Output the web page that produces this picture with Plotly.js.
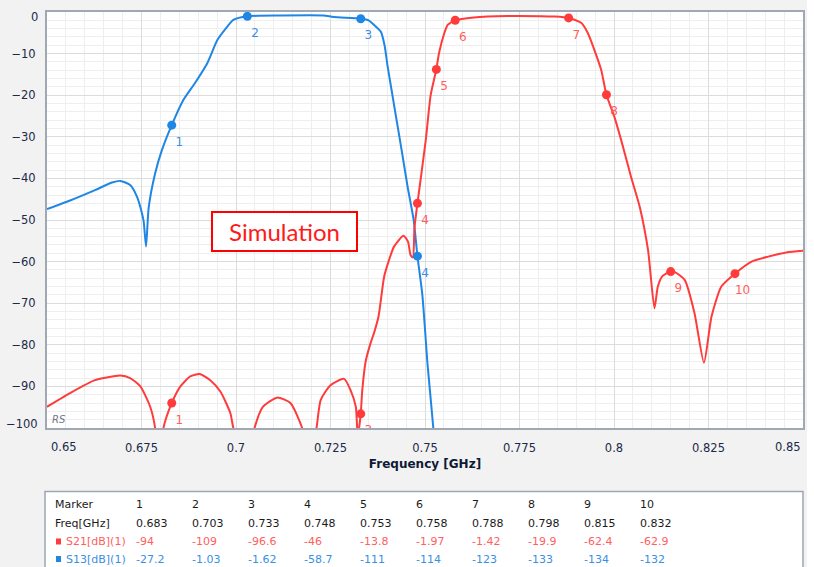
<!DOCTYPE html>
<html>
<head>
<meta charset="utf-8">
<script src="https://cdn.plot.ly/plotly-3.0.1.min.js"></script>
<style>html,body{margin:0;padding:0;background:#f2f2f2;}#chart{width:814px;height:567px;}</style>
</head>
<body>
<div id="chart"></div>
<script>
// ---- S13 (blue) trace ----
const s13Freq = [0.650,0.6561,0.6627,0.6672,0.6694,0.6720,0.6738,0.6751,0.6756,0.6762,0.6769,0.6786,0.6804,0.683,0.6861,0.6892,0.6924,0.6951,0.6977,0.6993,0.703,0.7118,0.7232,0.7258,0.733,0.7351,0.7364,0.7383,0.7393,0.7401,0.7412,0.7423,0.7436,0.7454,0.747,0.748,0.7493,0.7507,0.7522,0.753,0.758,0.788,0.798,0.815,0.832];
const s13dB   = [-47.4,-45.3,-42.8,-41.0,-40.6,-41.6,-44.4,-48.3,-50.5,-56.4,-47,-38.8,-33.2,-27.2,-21.1,-17,-12.3,-6.7,-3.5,-1.9,-1.03,-0.85,-0.85,-1.2,-1.62,-2,-3,-4.7,-8,-13,-19,-25,-32,-42,-50,-58.7,-68,-85,-100,-111,-114,-123,-133,-134,-132];

// ---- S21 (red) trace ----
const s21Freq = [0.650,0.6561,0.6627,0.6694,0.672,0.6747,0.6773,0.6786,0.6795,0.6808,0.683,0.6853,0.6879,0.6904,0.6932,0.6959,0.6985,0.6993,0.703,0.7049,0.7071,0.7109,0.7144,0.7175,0.7195,0.7213,0.7224,0.725,0.7286,0.7303,0.7317,0.7322,0.733,0.7334,0.7343,0.7356,0.7365,0.7377,0.7392,0.7405,0.7418,0.7443,0.7455,0.7462,0.7468,0.7472,0.748,0.7502,0.7515,0.753,0.7537,0.7551,0.756,0.758,0.7629,0.7719,0.7807,0.7841,0.788,0.7913,0.7931,0.7948,0.7966,0.798,0.8001,0.8019,0.8045,0.8068,0.809,0.8107,0.8116,0.8128,0.815,0.8162,0.8187,0.8213,0.8238,0.8258,0.8284,0.832,0.8364,0.8408,0.8456,0.85];
const s21dB   = [-94.9,-91.6,-88.5,-87.4,-88,-90,-94.9,-100,-112,-100,-94,-90,-87.6,-87,-88.5,-91.3,-96.4,-100,-109,-100,-94.9,-92.7,-94,-100,-108,-100,-93.3,-89.7,-88.2,-90.9,-94.9,-102,-96.6,-91,-84,-79.6,-77.2,-73.2,-63.6,-59.6,-56.4,-53.8,-55.2,-58.5,-59,-52,-46,-30.8,-20,-13.8,-9.9,-5.1,-3.1,-1.97,-1.3,-0.96,-1.0,-1.1,-1.42,-2.6,-5.1,-9.1,-13.9,-19.9,-25.2,-30.8,-39.6,-46.8,-57.2,-71.2,-66,-63.5,-62.4,-62.6,-64.4,-72.4,-84.3,-73.2,-66,-62.9,-60,-58.8,-57.8,-57.4];

// ---- Marker table ----
const markerNo   = [1,2,3,4,5,6,7,8,9,10];
const markerFreq = [0.683,0.703,0.733,0.748,0.753,0.758,0.788,0.798,0.815,0.832];
const markerS21  = [-94,-109,-96.6,-46,-13.8,-1.97,-1.42,-19.9,-62.4,-62.9];
const markerS13  = [-27.2,-1.03,-1.62,-58.7,-111,-114,-123,-133,-134,-132];

// ---- Axis ticks ----
const xTickVals = [0.65,0.675,0.7,0.725,0.75,0.775,0.8,0.825,0.85];
const xTickText = ['0.65','0.675','0.7','0.725','0.75','0.775','0.8','0.825','0.85'];
const yTickVals = [-100,-90,-80,-70,-60,-50,-40,-30,-20,-10,0];

const RED = '#ff3b3b', BLUE = '#1f86e6';
const RED_T = '#ff5e5e', BLUE_T = '#3a8fe3';
const NAVY = '#1c2a48';
const FONT = 'DejaVu Sans, Tahoma, sans-serif';
const NB = '\u00a0\u00a0\u00a0\u00a0';
const YMIN = yTickVals[0];

// plot area pixel frame
const L = 47, R = 803, T = 12, B = 428;
const px = x => (x - L) / (R - L);
const py = y => (B - y) / (B - T);

// marker number labels only where the marker lies inside the visible range
const labelsFor = vals => markerNo.map((n, i) => vals[i] >= YMIN ? NB + n : '');

const traces = [
  {x: s13Freq, y: s13dB, type: 'scatter', mode: 'lines', line: {color: BLUE, width: 2, shape: 'spline', smoothing: 0.6}, hoverinfo: 'skip', cliponaxis: true},
  {x: s21Freq, y: s21dB, type: 'scatter', mode: 'lines', line: {color: RED, width: 2, shape: 'spline', smoothing: 0.6}, hoverinfo: 'skip', cliponaxis: true},
  {x: markerFreq, y: markerS13, type: 'scatter', mode: 'markers', marker: {color: BLUE, size: 9}, cliponaxis: true, hoverinfo: 'skip'},
  {x: markerFreq, y: markerS21, type: 'scatter', mode: 'markers', marker: {color: RED, size: 9}, cliponaxis: true, hoverinfo: 'skip'},
  {x: markerFreq, y: markerS13, type: 'scatter', mode: 'markers+text', text: labelsFor(markerS13),
   textposition: 'bottom center', textfont: {family: FONT, size: 12, color: BLUE_T},
   marker: {color: BLUE, size: 17, opacity: 0}, cliponaxis: true, hoverinfo: 'skip'},
  {x: markerFreq, y: markerS21, type: 'scatter', mode: 'markers+text', text: labelsFor(markerS21),
   textposition: 'bottom center', textfont: {family: FONT, size: 12, color: RED_T},
   marker: {color: RED, size: 17, opacity: 0}, cliponaxis: true, hoverinfo: 'skip'}
];

const annotations = [];
const shapes = [];

// x end labels (kept inside frame like the original)
annotations.push({xref: 'paper', yref: 'paper', x: px(49), y: py(447), xanchor: 'left', yanchor: 'middle',
  text: xTickText[0], showarrow: false, font: {family: FONT, size: 11.5, color: NAVY}});
annotations.push({xref: 'paper', yref: 'paper', x: px(803), y: py(447), xanchor: 'right', yanchor: 'middle',
  text: xTickText[xTickText.length - 1], showarrow: false, font: {family: FONT, size: 11.5, color: NAVY}});
// y end labels (kept inside frame like the original)
annotations.push({xref: 'paper', yref: 'paper', x: px(40), y: py(17), xanchor: 'right', yanchor: 'middle',
  text: String(yTickVals[yTickVals.length - 1]), showarrow: false, font: {family: FONT, size: 11.5, color: NAVY}});
annotations.push({xref: 'paper', yref: 'paper', x: px(40), y: py(424), xanchor: 'right', yanchor: 'middle',
  text: '\u2212' + String(-yTickVals[0]), showarrow: false, font: {family: FONT, size: 11.5, color: NAVY}});

// RS watermark
annotations.push({xref: 'paper', yref: 'paper', x: px(50), y: py(419), xanchor: 'left', yanchor: 'middle',
  text: '<i>RS</i>', showarrow: false, font: {family: FONT, size: 10, color: '#6f7787'}});

// Simulation box
shapes.push({type: 'rect', xref: 'paper', yref: 'paper', x0: px(212), x1: px(357), y0: py(251), y1: py(212),
  line: {color: '#ff0000', width: 2}, fillcolor: '#ffffff', layer: 'above'});
annotations.push({xref: 'paper', yref: 'paper', x: px(284.5), y: py(231.5), xanchor: 'center', yanchor: 'middle',
  text: 'Simulation', showarrow: false, font: {family: 'Lato, Noto Sans, sans-serif', size: 24, color: '#ff1a1a'}});

// Table box
shapes.push({type: 'rect', xref: 'paper', yref: 'paper', x0: px(45), x1: px(803), y0: py(575), y1: py(491.5),
  line: {color: '#9ea6b2', width: 1.5}, fillcolor: '#ffffff', layer: 'below'});
// white strips at image edges
shapes.push({type: 'rect', xref: 'paper', yref: 'paper', x0: px(0), x1: px(814), y0: py(0), y1: py(-5),
  line: {width: 0}, fillcolor: '#ffffff', layer: 'below'});
shapes.push({type: 'rect', xref: 'paper', yref: 'paper', x0: px(807), x1: px(820), y0: py(580), y1: py(-5),
  line: {width: 0}, fillcolor: '#ffffff', layer: 'below'});

const rowY = [505, 523.5, 541.5, 559];
const colX = i => 134 + 56 * i;
const TF = {family: FONT, size: 11, color: '#1a1a1a'};
const addText = (x, y, t, font) => annotations.push({xref: 'paper', yref: 'paper', x: px(x), y: py(y),
  xanchor: 'left', yanchor: 'middle', text: t, showarrow: false, font: font});

addText(53, rowY[0], 'Marker', TF);
addText(53, rowY[1], 'Freq[GHz]', TF);
addText(64, rowY[2], 'S21[dB](1)', Object.assign({}, TF, {color: RED_T}));
addText(64, rowY[3], 'S13[dB](1)', Object.assign({}, TF, {color: BLUE_T}));
shapes.push({type: 'rect', xref: 'paper', yref: 'paper', x0: px(56), x1: px(61), y0: py(rowY[2] + 3), y1: py(rowY[2] - 3),
  line: {width: 0}, fillcolor: RED, layer: 'above'});
shapes.push({type: 'rect', xref: 'paper', yref: 'paper', x0: px(56), x1: px(61), y0: py(rowY[3] + 3), y1: py(rowY[3] - 3),
  line: {width: 0}, fillcolor: BLUE, layer: 'above'});

markerNo.forEach((m, i) => {
  addText(colX(i), rowY[0], String(m), TF);
  addText(colX(i), rowY[1], markerFreq[i].toFixed(3), TF);
  addText(colX(i), rowY[2], String(markerS21[i]), Object.assign({}, TF, {color: RED_T}));
  addText(colX(i), rowY[3], String(markerS13[i]), Object.assign({}, TF, {color: BLUE_T}));
});

const layout = {
  width: 814, height: 567,
  margin: {l: L, r: 814 - R, t: T, b: 567 - B, pad: 0},
  paper_bgcolor: '#f2f2f2',
  plot_bgcolor: '#ffffff',
  showlegend: false,
  xaxis: {
    range: [0.65, 0.85], tickvals: xTickVals.slice(1, -1), ticktext: xTickText.slice(1, -1),
    showgrid: true, gridcolor: '#dcdcdc', gridwidth: 1,
    minor: {dtick: 0.005, showgrid: true, gridcolor: '#eeeeee', gridwidth: 1},
    showline: true, mirror: true, linecolor: '#a0a8b4', linewidth: 2,
    zeroline: false, ticks: '', ticklabelstandoff: 8,
    tickfont: {family: FONT, size: 11.5, color: NAVY},
    title: {text: 'Frequency [GHz]', standoff: 6, font: {family: FONT, size: 12, weight: 'bold', color: '#0e1a35'}},
    automargin: false, fixedrange: true
  },
  yaxis: {
    range: [-100, 0], tickvals: yTickVals.slice(1, -1),
    showgrid: true, gridcolor: '#dcdcdc', gridwidth: 1,
    minor: {dtick: 2, showgrid: true, gridcolor: '#eeeeee', gridwidth: 1},
    showline: true, mirror: true, linecolor: '#a0a8b4', linewidth: 2,
    zeroline: false, ticks: '', ticklabelstandoff: 7,
    tickfont: {family: FONT, size: 11.5, color: NAVY},
    automargin: false, fixedrange: true
  },
  annotations: annotations,
  shapes: shapes
};

Plotly.newPlot('chart', traces, layout, {staticPlot: true, displayModeBar: false});
</script>
</body>
</html>
